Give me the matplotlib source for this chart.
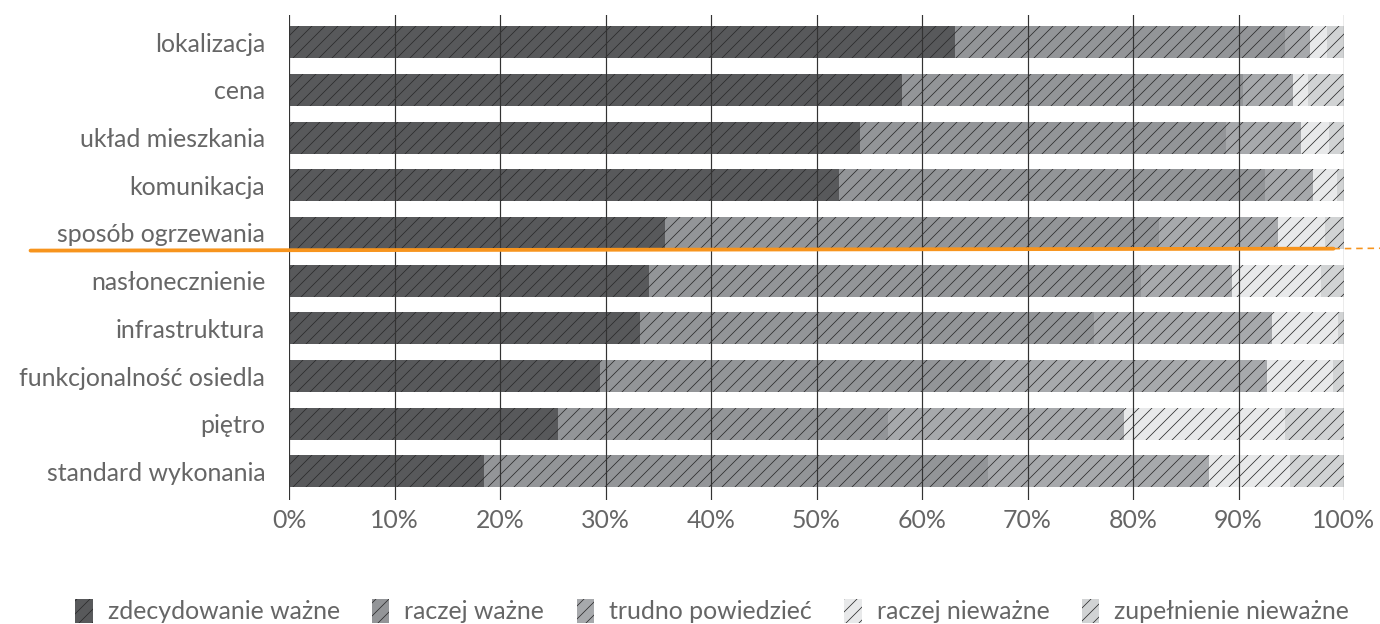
import matplotlib
matplotlib.use('Agg')
import matplotlib.pyplot as plt
import numpy as np
from matplotlib.patches import Patch

# data (percent of answers)
categories = ['lokalizacja', 'cena', 'układ mieszkania', 'komunikacja',
              'sposób ogrzewania', 'nasłonecznienie', 'infrastruktura',
              'funkcjonalność osiedla', 'piętro', 'standard wykonania']
series_names = ['zdecydowanie ważne', 'raczej ważne', 'trudno powiedzieć',
                'raczej nieważne', 'zupełnienie nieważne']
zdecydowanie = [63.1, 58.1, 54.1, 52.1, 35.6, 34.1, 33.3, 29.5, 25.5, 18.5]
raczej = [31.3, 32.3, 34.7, 40.4, 46.9, 46.7, 43.0, 36.9, 31.3, 47.8]
trudno = [2.4, 4.8, 7.1, 4.6, 11.2, 8.6, 16.9, 26.3, 22.3, 20.9]
raczej_niewazne = [1.6, 1.4, 2.7, 2.2, 4.5, 8.4, 6.2, 6.3, 15.3, 7.7]
zupelnie = [1.6, 3.4, 1.4, 0.7, 1.8, 2.2, 0.6, 1.0, 5.6, 5.1]
xticks = [0, 10, 20, 30, 40, 50, 60, 70, 80, 90, 100]

colors = ['#58595b', '#939598', '#a7a9ac', '#e8e9ea', '#d1d3d4']
txt = '#666666'

plt.rcParams['font.family'] = ['Lato', 'DejaVu Sans']
plt.rcParams['hatch.color'] = '#2b2b2b'
plt.rcParams['hatch.linewidth'] = 0.7

DPI = 78
fig = plt.figure(figsize=(1380 / DPI, 624 / DPI), dpi=DPI)
ax = fig.add_axes([289 / 1380, 1 - 500 / 624, 1055 / 1380, 485 / 624])

y = np.arange(len(categories))
left = np.zeros(len(categories))
for vals, col in zip([zdecydowanie, raczej, trudno, raczej_niewazne, zupelnie], colors):
    ax.barh(y, vals, left=left, height=0.67, color=col, hatch='//', linewidth=0)
    left += np.array(vals)

ax.set_xlim(0, 100)
ax.set_ylim(len(categories) - 0.4, -0.57)
ax.set_yticks(y)
ax.set_yticklabels(categories, fontsize=23, color=txt)
ax.set_xticks(xticks)
ax.set_xticklabels([f'{v}%' for v in xticks], fontsize=23, color=txt)
ax.tick_params(length=0)
ax.tick_params(axis='x', pad=8)
ax.tick_params(axis='y', pad=22)
for s in ax.spines.values():
    s.set_visible(False)
ax.set_axisbelow(False)
ax.grid(axis='x', color='#333333', linewidth=1.1)
ax.grid(axis='y', visible=False)

# orange hand drawn separator
ax.plot([-24.5, 99], [4.37, 4.33], color='#f7941d', linewidth=3.5,
        solid_capstyle='round', clip_on=False, zorder=5)
ax.plot([99, 104], [4.33, 4.32], color='#f7941d', linewidth=1.5,
        linestyle=(0, (4, 3)), clip_on=False, zorder=5)

handles = [Patch(facecolor=c, hatch='//', linewidth=0) for c in colors]
leg = fig.legend(handles, series_names, loc='lower center', ncol=5,
                 bbox_to_anchor=(0.516, -0.035), frameon=False, fontsize=23,
                 handlelength=0.7, handleheight=1.1, columnspacing=1.3,
                 handletextpad=0.6)
for t in leg.get_texts():
    t.set_color(txt)

fig.savefig('out.png', dpi=DPI)
